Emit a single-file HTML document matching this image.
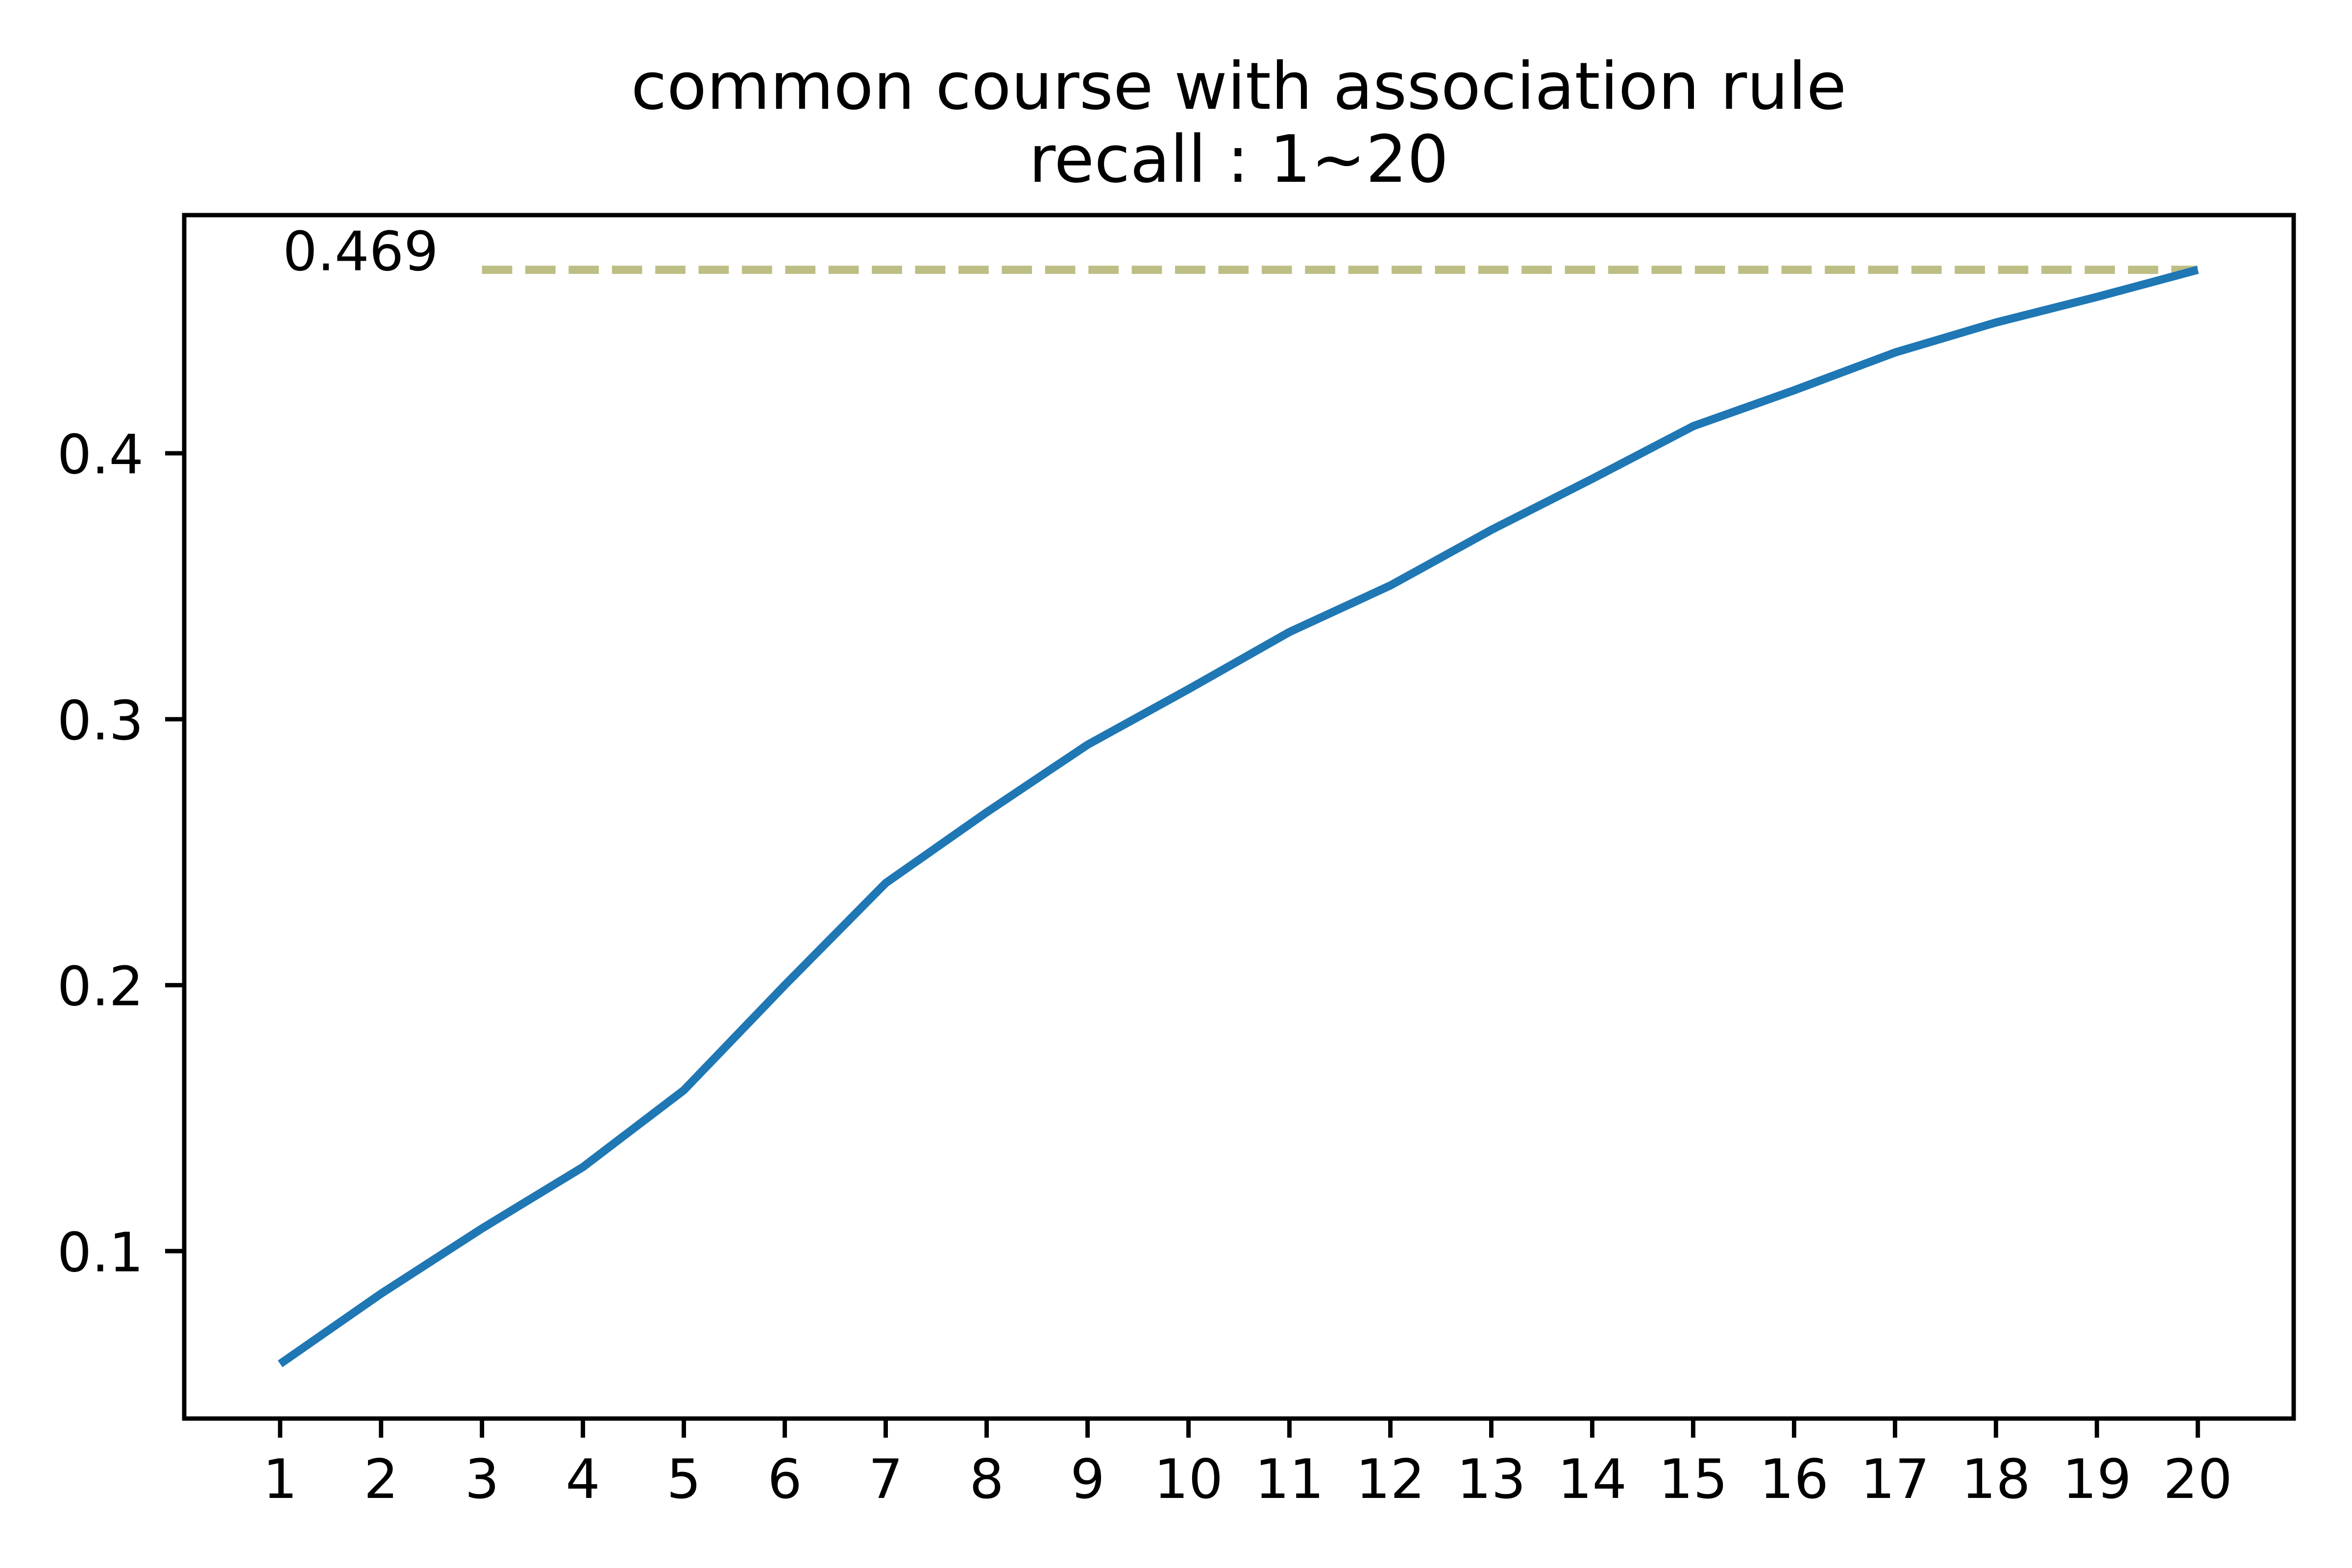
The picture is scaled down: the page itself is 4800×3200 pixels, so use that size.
<!DOCTYPE html>
<html><head><meta charset="utf-8"><style>
html,body{margin:0;padding:0;background:#fff;width:4800px;height:3200px;overflow:hidden}
svg text{font-family:"DejaVu Sans","Liberation Sans",sans-serif;fill:#000}
</style></head><body>
<svg id="chart" width="4800" height="3200" viewBox="0 0 4800 3200" xmlns="http://www.w3.org/2000/svg">
<rect width="4800" height="3200" fill="#fff"/>
<text x="2528" y="222" font-size="133" text-anchor="middle">common course with association rule</text>
<text x="2528" y="371" font-size="133" text-anchor="middle">recall : 1~20</text>
<g id="plot"></g>
</svg>
<script>
const categories = [1,2,3,4,5,6,7,8,9,10,11,12,13,14,15,16,17,18,19,20];
const recallValues = [0.0576,0.084,0.1085,0.1316,0.1605,0.2,0.2384,0.265,0.2904,0.3113,0.3328,0.3503,0.3712,0.3904,0.4102,0.4237,0.4379,0.4492,0.4588,0.469];
const yTicks = [0.1,0.2,0.3,0.4];
const yTickLabels = ["0.1","0.2","0.3","0.4"];
const maxLabel = "0.469";
const maxLineStart = 3;

const NS = "http://www.w3.org/2000/svg";
const L = 376, R = 4681, T = 439, B = 2895;
const xMin = 0.05, xMax = 20.95;
const vMin = Math.min(...recallValues), vMax = Math.max(...recallValues);
const yPad = (vMax - vMin) * 0.05;
const yMin = vMin - yPad, yMax = vMax + yPad;
function xs(v){ return L + (v - xMin) / (xMax - xMin) * (R - L); }
function ys(v){ return B - (v - yMin) / (yMax - yMin) * (B - T); }
const g = document.getElementById('plot');
function mk(tag, attrs){ const e = document.createElementNS(NS, tag); for (const k in attrs) e.setAttribute(k, attrs[k]); g.appendChild(e); return e; }

// max dashed line
const peak = recallValues[recallValues.length - 1];
const dl = mk('line', {x1: xs(maxLineStart), x2: xs(categories[categories.length-1]), y1: ys(peak), y2: ys(peak), stroke: '#bdbe84', 'stroke-width': 16.7, 'stroke-dasharray': '61.7 26.7'});


const ml = mk('text', {x: 577, y: ys(peak) + 1, 'font-size': 111});
ml.textContent = maxLabel;



// series line
const pts = categories.map((c,i) => xs(c).toFixed(1) + ',' + ys(recallValues[i]).toFixed(1)).join(' ');
const pl = mk('polyline', {points: pts, fill: 'none', stroke: '#1f77b4', 'stroke-width': 16.7, 'stroke-linejoin': 'round', 'stroke-linecap': 'butt'});



// axes frame
const fr = mk('rect', {x: L, y: T, width: R - L, height: B - T, fill: 'none', stroke: '#000', 'stroke-width': 8.9});



// x ticks
categories.forEach(c => {
  const x = xs(c);
  const t = mk('line', {x1: x, x2: x, y1: B, y2: B + 39, stroke: '#000', 'stroke-width': 8.9});
  
  
  const lb = mk('text', {x: x, y: 3057, 'font-size': 111, 'text-anchor': 'middle'});
  lb.textContent = String(c);
  
  
});
// y ticks
yTicks.forEach((v,i) => {
  const y = ys(v);
  const t = mk('line', {x1: L - 39, x2: L, y1: y, y2: y, stroke: '#000', 'stroke-width': 8.9});
  
  
  const lb = mk('text', {x: 293, y: y + 41, 'font-size': 111, 'text-anchor': 'end'});
  lb.textContent = yTickLabels[i];
  
  
});
</script>
</body></html>
